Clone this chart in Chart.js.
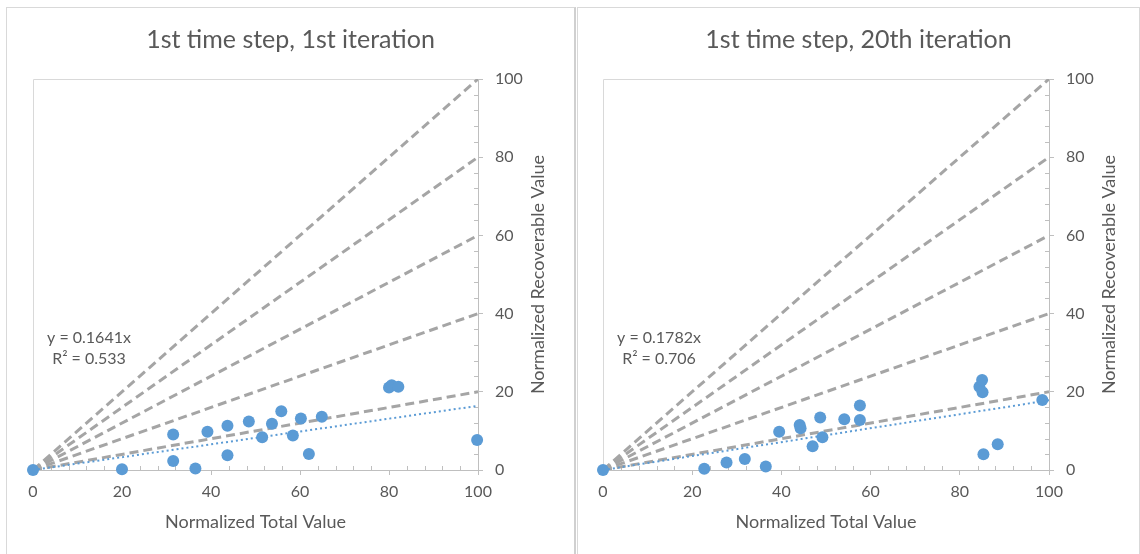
<!DOCTYPE html>
<html>
<head>
<meta charset="utf-8">
<script src="https://cdn.jsdelivr.net/npm/chart.js@4.4.1/dist/chart.umd.min.js"></script>
<style>
  html, body { margin: 0; padding: 0; background: #fff; width: 1140px; height: 554px; overflow: hidden; }
  .panel { position: absolute; top: 7px; height: 547px; box-sizing: border-box; border: 1px solid #d9d9d9; border-bottom: none; }
  canvas { position: absolute; top: 7px; }
</style>
</head>
<body>
<div class="panel" style="left:6px;width:570px;border-right:2px solid #d0d0d0;"></div>
<div class="panel" style="left:577px;width:563px;"></div>
<canvas id="chartA" width="569" height="547" style="left:6px"></canvas>
<canvas id="chartB" width="563" height="547" style="left:577px"></canvas>
<script>
// ---- data ----
const axisTicks = [0, 20, 40, 60, 80, 100];
const refSlopes = [1.0, 0.8, 0.6, 0.4, 0.2];

const totalIter1 = [0, 20, 31.5, 31.5, 36.5, 39.2, 43.7, 43.7, 48.5, 51.5, 53.7, 55.8, 58.4, 60.2, 62.0, 64.9, 80.0, 80.6, 82.1, 99.8];
const recovIter1 = [0, 0.2, 9.1, 2.3, 0.4, 9.8, 11.3, 3.8, 12.4, 8.4, 11.8, 15.0, 8.8, 13.2, 4.1, 13.6, 21.1, 21.7, 21.3, 7.7];
const slopeIter1 = 0.1641;
const r2Iter1 = 0.533;

const totalIter20 = [0, 22.7, 27.7, 31.8, 36.5, 39.5, 44.1, 44.3, 47.0, 48.7, 49.2, 54.1, 57.6, 57.6, 84.4, 85.0, 85.1, 85.3, 88.5, 98.5];
const recovIter20 = [0, 0.3, 1.9, 2.8, 0.9, 9.8, 11.5, 10.7, 6.1, 13.4, 8.4, 13.0, 16.5, 12.8, 21.3, 23.0, 19.9, 4.0, 6.6, 17.9];
const slopeIter20 = 0.1782;
const r2Iter20 = 0.706;

// ---- styling ----
const FONT = 'Lato, "Open Sans", sans-serif';
const TEXT = '#595959';
const AXIS = '#bfbfbf';
const BLUE = '#5b9bd5';
const DASH_GRAY = '#a5a5a5';
const MINOR_STEP = 4;

// Chart title centred on the panel, plot frame, inside minor ticks,
// rotated y title and trendline equation
const decoPlugin = {
  id: 'deco',
  beforeDatasetsDraw(chart, args, opts) {
    const { ctx, chartArea: a, scales: { x, y } } = chart;
    ctx.save();
    ctx.lineWidth = 1;
    ctx.strokeStyle = '#d9d9d9';
    ctx.beginPath();
    ctx.moveTo(Math.round(a.left) + 0.5, a.bottom);
    ctx.lineTo(Math.round(a.left) + 0.5, Math.round(a.top) + 0.5);
    ctx.lineTo(a.right, Math.round(a.top) + 0.5);
    ctx.stroke();

    ctx.strokeStyle = AXIS;
    ctx.beginPath();
    for (let v = MINOR_STEP; v < 100; v += MINOR_STEP) {
      if (v % 20 === 0) continue;
      const px = Math.round(x.getPixelForValue(v)) + 0.5;
      ctx.moveTo(px, a.bottom);
      ctx.lineTo(px, a.bottom - 4);
      const py = Math.round(y.getPixelForValue(v)) + 0.5;
      ctx.moveTo(a.right, py);
      ctx.lineTo(a.right - 4, py);
    }
    ctx.stroke();
    ctx.restore();
  },
  afterDraw(chart, args, opts) {
    const { ctx, chartArea: a, width } = chart;

    ctx.save();
    ctx.fillStyle = TEXT;
    ctx.font = '25px ' + FONT;
    ctx.textAlign = 'center';
    ctx.textBaseline = 'middle';
    ctx.fillText(opts.title, width / 2, 33);
    ctx.restore();

    ctx.save();
    ctx.fillStyle = TEXT;
    ctx.font = '18px ' + FONT;
    ctx.textAlign = 'center';
    ctx.textBaseline = 'middle';
    ctx.translate(a.right + 60, (a.top + a.bottom) / 2);
    ctx.rotate(-Math.PI / 2);
    ctx.fillText(opts.yTitle, 0, 0);
    ctx.restore();

    ctx.save();
    ctx.fillStyle = TEXT;
    ctx.font = '16px ' + FONT;
    ctx.textAlign = 'center';
    ctx.textBaseline = 'middle';
    ctx.fillText('y = ' + opts.slope.toFixed(4) + 'x', a.left + 56, a.top + 259);
    ctx.fillText('R\u00b2 = ' + opts.r2.toFixed(3), a.left + 56, a.top + 280);
    ctx.restore();
  }
};

function buildChart(canvasId, titleText, xs, ys, slope, r2, padLeft, yAxisWidth) {
  const points = xs.map((x, i) => ({ x: x, y: ys[i] }));
  const datasets = [
    {
      data: points,
      backgroundColor: BLUE,
      borderColor: BLUE,
      pointRadius: 6,
      pointBorderWidth: 0,
      showLine: false,
      clip: false
    },
    {
      data: [{ x: 0, y: 0 }, { x: 100, y: slope * 100 }],
      showLine: true,
      borderColor: BLUE,
      borderWidth: 2,
      borderDash: [2, 3],
      pointRadius: 0
    }
  ];
  refSlopes.forEach(s => {
    datasets.push({
      data: [{ x: 0, y: 0 }, { x: 100, y: s * 100 }],
      showLine: true,
      borderColor: DASH_GRAY,
      borderWidth: 3,
      borderDash: [9, 5],
      pointRadius: 0
    });
  });

  return new Chart(document.getElementById(canvasId), {
    type: 'scatter',
    data: { datasets: datasets },
    plugins: [decoPlugin],
    options: {
      responsive: false,
      animation: false,
      layout: { padding: { left: padLeft, right: 0, top: 72, bottom: 0 } },
      plugins: {
        legend: { display: false },
        tooltip: { enabled: false },
        title: { display: false },
        deco: { title: titleText, slope: slope, r2: r2, yTitle: 'Normalized Recoverable Value' }
      },
      scales: {
        x: {
          type: 'linear',
          min: axisTicks[0],
          max: axisTicks[axisTicks.length - 1],
          afterBuildTicks: s => { s.ticks = axisTicks.map(v => ({ value: v })); },
          afterFit: s => { s.height = 84; },
          ticks: { color: TEXT, font: { family: FONT, size: 16 }, padding: 7, maxRotation: 0 },
          grid: { drawOnChartArea: false, drawTicks: true, tickLength: 5, color: AXIS },
          border: { display: true, color: AXIS, width: 1 },
          title: {
            display: true,
            text: 'Normalized Total Value',
            color: TEXT,
            font: { family: FONT, size: 18 },
            padding: { top: 0, bottom: 21 }
          }
        },
        y: {
          type: 'linear',
          position: 'right',
          min: axisTicks[0],
          max: axisTicks[axisTicks.length - 1],
          afterBuildTicks: s => { s.ticks = axisTicks.map(v => ({ value: v })); },
          afterFit: s => { s.width = yAxisWidth; },
          ticks: { color: TEXT, font: { family: FONT, size: 16 }, padding: 12 },
          grid: { drawOnChartArea: false, drawTicks: true, tickLength: 5, color: AXIS },
          border: { display: true, color: AXIS, width: 1 }
        }
      }
    }
  });
}

buildChart('chartA', '1st time step, 1st iteration', totalIter1, recovIter1, slopeIter1, r2Iter1, 27, 97);
buildChart('chartB', '1st time step, 20th iteration', totalIter20, recovIter20, slopeIter20, r2Iter20, 26, 91);
</script>
</body>
</html>
